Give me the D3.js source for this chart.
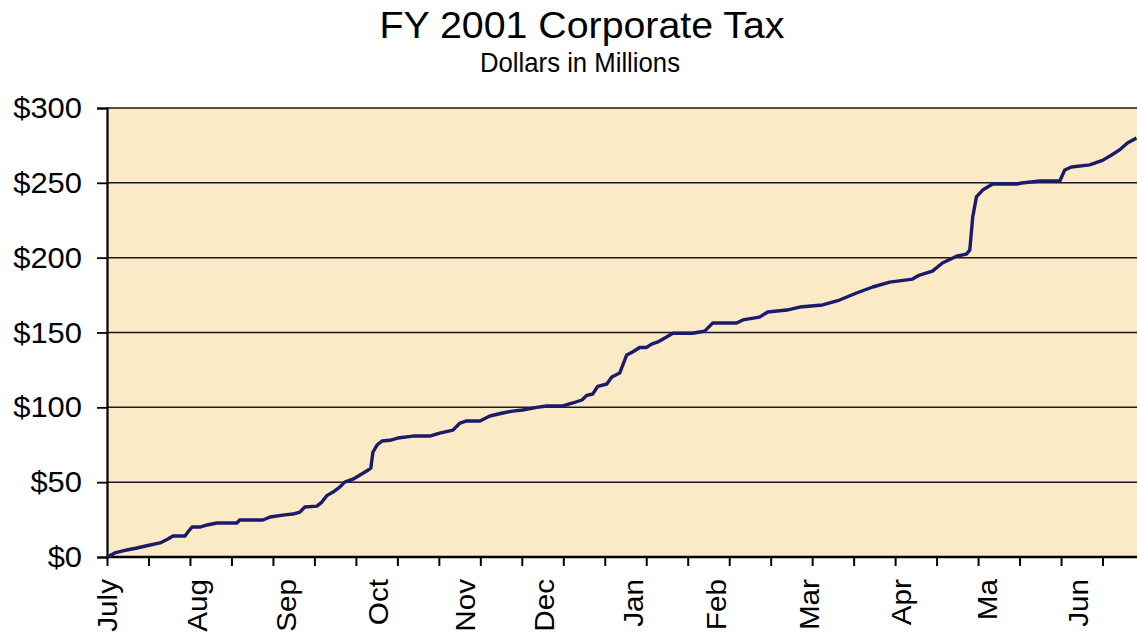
<!DOCTYPE html>
<html>
<head>
<meta charset="utf-8">
<script src="https://cdn.jsdelivr.net/npm/d3@7"></script>
<style>
  html, body { margin: 0; padding: 0; background: #ffffff; }
  svg { display: block; font-family: "Liberation Sans", Arial, sans-serif; }
</style>
</head>
<body>
<svg id="chart" width="1137" height="638"></svg>
<script>
// ---- data (business-day index within FY 2001, cumulative $ millions) ----
const days = [0, 1.9, 4.8, 7.2, 10.4, 12.8, 14.7, 15.9, 18.8, 19.5, 20.5, 22.4, 24.1, 26.5, 31.3, 32.0,
  37.6, 39.3, 42.4, 44.8, 46.5, 47.7, 50.6, 51.8, 53.0, 54.5, 56.1, 57.3, 59.3, 61.0, 62.9, 63.6,
  64.1, 65.1, 66.3, 68.2, 70.1, 73.7, 77.8, 80.2, 83.4, 85.1, 86.7, 89.9, 92.3, 95.4, 97.8, 100.2,
  103.6, 106.0, 109.9, 112.3, 114.5, 115.7, 117.1, 118.3, 120.5, 121.7, 123.6, 125.3, 126.7, 128.4,
  130.1, 131.3, 132.8, 134.9, 136.4, 141.2, 142.9, 144.1, 146.0, 151.8, 153.3, 157.3, 159.3, 163.9,
  167.0, 172.5, 176.6, 180.7, 184.6, 188.7, 194.2, 195.9, 199.0, 201.4, 204.8, 207.2, 208.0, 208.7,
  209.6, 211.1, 213.5, 219.3, 220.5, 224.9, 229.7, 230.9, 232.5, 236.9, 240.0, 242.2, 244.1, 246.0, 248.2];
const values = [0, 2.7, 4.7, 6, 8, 9.4, 12, 14, 14, 16.7, 20, 20, 21.4, 22.7, 22.7, 24.7,
  24.7, 26.7, 28, 28.7, 30, 33.4, 34, 36.7, 41, 43.4, 46.7, 50, 52, 54.8, 58, 59.4,
  70, 74.8, 77.5, 78, 79.5, 80.8, 80.8, 82.8, 84.8, 89.5, 90.9, 90.9, 94.2, 96.2, 97.5, 98.2,
  100, 100.9, 100.9, 102.9, 104.9, 108, 108.9, 114, 115.6, 120.3, 122.9, 135, 137, 140,
  140, 142.3, 143.7, 147, 149.5, 149.5, 150.3, 150.9, 156.3, 156.3, 158.4, 160.3, 163.7, 165,
  167, 168.4, 171.7, 176.4, 180.4, 183.7, 185.7, 188.4, 191, 196.4, 201, 202.4, 205, 227,
  240.6, 245.2, 249.2, 249.2, 249.9, 251.2, 251.2, 258.6, 260.6, 262, 265, 268.6, 272, 276.6, 279.9];
const yTicks = [0, 50, 100, 150, 200, 250, 300];
const xTickDays = d3.range(0, 241, 10);
const monthLabels = ["July", "Aug", "Sep", "Oct", "Nov", "Dec", "Jan", "Feb", "Mar", "Apr", "Ma", "Jun"];
const monthLabelDays = [0, 21.7, 43.2, 65.3, 86.3, 105.3, 126.8, 146.9, 169.2, 191.4, 212.1, 234.1];
const titleText = "FY 2001 Corporate Tax";
const subtitleText = "Dollars in Millions";

// ---- layout ----
const svg = d3.select("#chart");
const W = 1137;
const plotLeft = 107, plotTop = 108, plotBottom = 557;
const x = d3.scaleLinear().domain([0, 250]).range([plotLeft, 1144]);
const y = d3.scaleLinear().domain([0, 300]).range([plotBottom, plotTop]);

function stretch(sel, k) {
  sel.each(function () {
    const w = this.getComputedTextLength();
    d3.select(this).attr("textLength", w * k).attr("lengthAdjust", "spacingAndGlyphs");
  });
}

// plot background
svg.append("rect")
  .attr("x", plotLeft).attr("y", plotTop)
  .attr("width", W - plotLeft).attr("height", plotBottom - plotTop)
  .attr("fill", "#FAEAC6");

// gridlines
svg.append("g").selectAll("line")
  .data(yTicks.filter(d => d > 0))
  .join("line")
  .attr("x1", plotLeft).attr("x2", W)
  .attr("y1", d => y(d)).attr("y2", d => y(d))
  .attr("stroke", "#1a1a1a").attr("stroke-width", 1.5);

// y axis
const yAxis = svg.append("g")
  .attr("transform", `translate(${plotLeft},0)`)
  .call(d3.axisLeft(y).tickValues(yTicks).tickSize(10).tickPadding(15).tickFormat(d => "$" + d));
yAxis.select(".domain").attr("stroke", "#000").attr("stroke-width", 2.2);
yAxis.selectAll(".tick line").attr("stroke", "#000").attr("stroke-width", 1.8);
yAxis.selectAll(".tick text")
  .attr("font-size", 30).attr("fill", "#000")
  .attr("font-family", "'Liberation Sans', Arial, sans-serif")
  .call(stretch, 1.03);

// x axis
const xAxis = svg.append("g")
  .attr("transform", `translate(0,${plotBottom})`)
  .call(d3.axisBottom(x).tickValues(xTickDays).tickSize(9).tickFormat(""));
xAxis.select(".domain").attr("stroke", "#000").attr("stroke-width", 2.4)
  .attr("d", `M${plotLeft},0H${W}`);
xAxis.selectAll(".tick line").attr("stroke", "#000").attr("stroke-width", 2);

// month labels (rotated)
svg.append("g").selectAll("text")
  .data(monthLabels)
  .join("text")
  .attr("transform", (d, i) => `translate(${x(monthLabelDays[i])},579) rotate(-90)`)
  .attr("text-anchor", "end")
  .attr("dy", "0.35em")
  .attr("font-size", 28)
  .attr("fill", "#000")
  .text(d => d)
  .call(stretch, 1.06);

// line
const pts = days.map((d, i) => [d, values[i]]);
svg.append("path")
  .datum(pts)
  .attr("fill", "none")
  .attr("stroke", "#1b1b6b")
  .attr("stroke-width", 3.4)
  .attr("stroke-linejoin", "round")
  .attr("d", d3.line().x(p => x(p[0])).y(p => y(p[1])));

// titles
svg.append("text")
  .attr("x", 582).attr("y", 38)
  .attr("text-anchor", "middle")
  .attr("font-size", 36).attr("fill", "#000")
  .text(titleText)
  .attr("textLength", 405).attr("lengthAdjust", "spacingAndGlyphs");
svg.append("text")
  .attr("x", 580).attr("y", 72)
  .attr("text-anchor", "middle")
  .attr("font-size", 28).attr("fill", "#000")
  .text(subtitleText)
  .attr("textLength", 200).attr("lengthAdjust", "spacingAndGlyphs");
</script>
</body>
</html>
